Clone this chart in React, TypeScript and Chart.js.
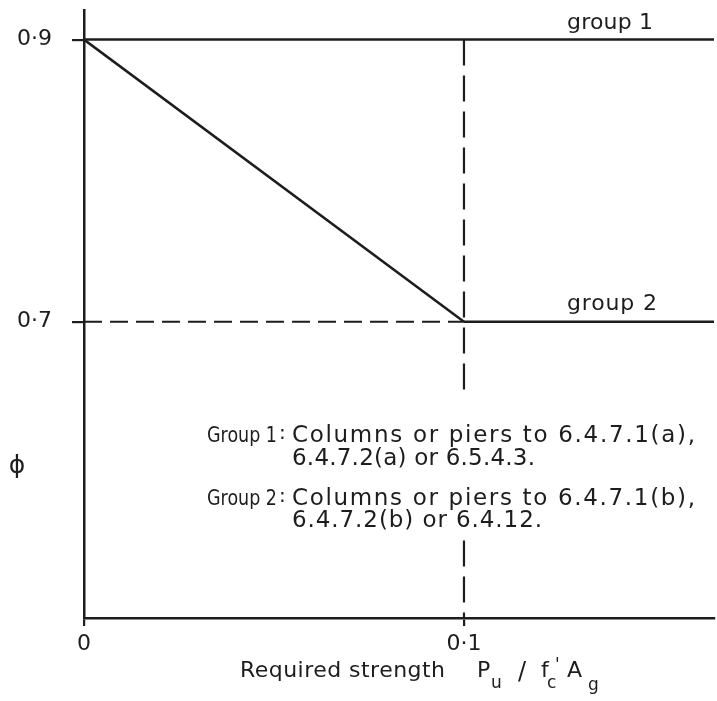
import { useEffect, useRef } from "react";
import { Chart, registerables } from "chart.js";

Chart.register(...registerables);

// ---- data ----
const X_RANGE = [0, 0.1658];
const Y_RANGE = [0.49, 0.921];
const X_TICKS = [0, 0.1];
const X_TICK_LABELS = ["0", "0·1"];
const Y_TICKS = [0.7, 0.9];
const Y_TICK_LABELS = ["0·7", "0·9"];

const GROUP1_X = [0, 0.1658];
const GROUP1_Y = [0.9, 0.9];
const TRANSITION_X = [0, 0.1];
const TRANSITION_Y = [0.9, 0.7];
const GROUP2_X = [0.1, 0.1658];
const GROUP2_Y = [0.7, 0.7];
const REF_PHI_X = [0, 0.1];
const REF_PHI_Y = [0.7, 0.7];
const REF_P_X = [0.1, 0.1, 0.1, 0.1, 0.1];
const REF_P_Y: (number | null)[] = [0.9, 0.648, null, 0.545, 0.49];

const SERIES_LABELS = ["group 1", "group 2"];
const NOTE_HEADS = ["Group 1", "Group 2"];
const NOTE_LINES = [
  ["Columns or piers to 6.4.7.1(a),", "6.4.7.2(a) or 6.5.4.3."],
  ["Columns or piers to 6.4.7.1(b),", "6.4.7.2(b) or 6.4.12."],
];
const Y_TITLE = "ϕ";
const X_TITLE = "Required strength";

const INK = "#1d1d1d";
const FONT = "'DejaVu Sans', sans-serif";

const pts = (xs: number[], ys: (number | null)[]) =>
  xs.map((x, i) => ({ x, y: ys[i] }));

function drawFit(
  ctx: CanvasRenderingContext2D,
  text: string,
  x: number,
  y: number,
  width: number,
  size: number
) {
  ctx.font = `${size}px ${FONT}`;
  (ctx as any).letterSpacing = "0px";
  const w = ctx.measureText(text).width;
  if (w < width && text.length > 1) {
    (ctx as any).letterSpacing = `${(width - w) / (text.length - 1)}px`;
    ctx.fillText(text, x, y);
  } else {
    ctx.fillText(text, x, y, width);
  }
  (ctx as any).letterSpacing = "0px";
}

const textPlugin = {
  id: "annotText",
  afterDraw(chart: any) {
    const ctx: CanvasRenderingContext2D = chart.ctx;
    ctx.save();
    ctx.fillStyle = INK;
    ctx.textAlign = "left";
    ctx.textBaseline = "alphabetic";
    // series labels
    drawFit(ctx, SERIES_LABELS[0], 567, 29, 86, 22);
    drawFit(ctx, SERIES_LABELS[1], 567, 310, 90, 22);
    // notes
    const bases = [
      [442, 465],
      [505, 527],
    ];
    NOTE_HEADS.forEach((h, i) => {
      drawFit(ctx, h, 207, bases[i][0], 70, 22);
      ctx.font = `20px ${FONT}`;
      ctx.fillText(":", 279, bases[i][0] - 3);
      drawFit(ctx, NOTE_LINES[i][0], 292, bases[i][0], 403, 23);
      drawFit(ctx, NOTE_LINES[i][1], 292, bases[i][1], i === 0 ? 243 : 250, 23);
    });
    // y title
    ctx.textAlign = "center";
    ctx.textBaseline = "middle";
    ctx.font = `25px ${FONT}`;
    ctx.fillText(Y_TITLE, 17, 466);
    // x title
    ctx.textAlign = "left";
    ctx.textBaseline = "alphabetic";
    drawFit(ctx, X_TITLE, 240, 677, 205, 22);
    ctx.font = `22px ${FONT}`;
    ctx.fillText("P", 477, 677);
    ctx.font = `17px ${FONT}`;
    ctx.fillText("u", 491, 688);
    ctx.font = `24px ${FONT}`;
    ctx.fillText("/", 518, 679);
    ctx.font = `22px ${FONT}`;
    ctx.fillText("f", 541, 677);
    ctx.font = `17px ${FONT}`;
    ctx.fillText("'", 555, 670);
    ctx.fillText("c", 547, 688);
    ctx.font = `22px ${FONT}`;
    ctx.fillText("A", 567, 677);
    ctx.font = `17px ${FONT}`;
    ctx.fillText("g", 588, 690);
    ctx.restore();
  },
};

export default function App() {
  const ref = useRef<HTMLCanvasElement | null>(null);
  useEffect(() => {
    if (!ref.current) return;
    const lineBase = {
      borderColor: INK,
      borderWidth: 2.5,
      pointRadius: 0,
      fill: false,
      tension: 0,
      spanGaps: false,
    };
    const chart = new Chart(ref.current, {
      type: "line",
      data: {
        datasets: [
          { ...lineBase, label: "group 1", data: pts(GROUP1_X, GROUP1_Y) },
          { ...lineBase, label: "transition", data: pts(TRANSITION_X, TRANSITION_Y) },
          { ...lineBase, label: "group 2", data: pts(GROUP2_X, GROUP2_Y) },
          { ...lineBase, label: "ref phi", borderDash: [18, 8], borderWidth: 2.2, data: pts(REF_PHI_X, REF_PHI_Y) },
          { ...lineBase, label: "ref P", borderDash: [26, 10], borderWidth: 2.2, data: pts(REF_P_X, REF_P_Y) },
        ] as any,
      },
      options: {
        animation: false,
        responsive: false,
        devicePixelRatio: 1,
        layout: { padding: { top: 10, right: 3, left: 0, bottom: 0 } },
        plugins: { legend: { display: false }, tooltip: { enabled: false } },
        scales: {
          x: {
            type: "linear",
            min: X_RANGE[0],
            max: X_RANGE[1],
            afterBuildTicks: (s: any) => {
              s.ticks = X_TICKS.map((v) => ({ value: v }));
            },
            afterFit: (s: any) => {
              s.height = 83;
              s.paddingLeft = 0;
              s.paddingRight = 0;
            },
            ticks: {
              color: INK,
              font: { family: FONT, size: 22 },
              padding: 5,
              maxRotation: 0,
              callback: (_v: any, i: number) => X_TICK_LABELS[i],
            },
            grid: {
              drawOnChartArea: false,
              drawTicks: true,
              tickLength: 8,
              color: INK,
              lineWidth: 2.2,
            },
            border: { display: true, color: INK, width: 2.5 },
          },
          y: {
            type: "linear",
            min: Y_RANGE[0],
            max: Y_RANGE[1],
            afterBuildTicks: (s: any) => {
              s.ticks = Y_TICKS.map((v) => ({ value: v }));
            },
            afterFit: (s: any) => {
              s.width = 84;
              s.paddingTop = 0;
              s.paddingBottom = 0;
            },
            ticks: {
              color: INK,
              font: { family: FONT, size: 22 },
              padding: 20,
              callback: (_v: any, i: number) => Y_TICK_LABELS[i],
            },
            grid: {
              drawOnChartArea: false,
              drawTicks: true,
              tickLength: 12,
              color: INK,
              lineWidth: 2.2,
            },
            border: { display: true, color: INK, width: 2.5 },
          },
        },
      },
      plugins: [textPlugin],
    } as any);
    return () => chart.destroy();
  }, []);
  return (
    <div style={{ position: "absolute", left: 0, top: 0, width: 717, height: 701, background: "#fff" }}>
      <canvas ref={ref} width={717} height={701} style={{ display: "block" }} />
    </div>
  );
}
